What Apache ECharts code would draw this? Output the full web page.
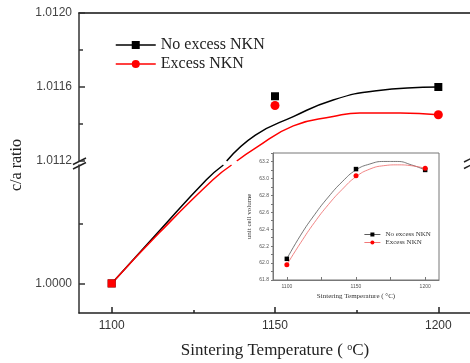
<!DOCTYPE html>
<html>
<head>
<meta charset="utf-8">
<script src="https://cdn.jsdelivr.net/npm/echarts@6/dist/echarts.min.js"></script>
<style>
  html, body { margin: 0; padding: 0; background: #fff; }
  #chart { width: 470px; height: 363px; }
</style>
</head>
<body>
<div id="chart"></div>
<script>
// main plot: c/a ratio against sintering temperature
const temps = [1100, 1150, 1200]
const caNoExcess = [1.0000, 1.01155, 1.01160]
const caExcess = [1.0000, 1.01150, 1.01145]

// fitted curves, split at the axis break
const fitNoExcessLow = [[1100, 1.0000], [1114, 1.00017], [1129, 1.00035], [1134.2, 1.0004]]
const fitExcessLow = [[1100, 1.0000], [1114.5, 1.00017], [1131, 1.00035], [1136.7, 1.0004]]
const fitNoExcessHigh = [[1135.2, 1.0112], [1144, 1.01134], [1155.6, 1.01144], [1167.8, 1.01153], [1181.1, 1.01158], [1200, 1.01160]]
const fitExcessHigh = [[1138.3, 1.0112], [1144, 1.01127], [1155.6, 1.01139], [1167.8, 1.01144], [1176, 1.01146], [1188.3, 1.01146], [1200, 1.01145]]

// inset: unit cell volume
const volNoExcess = [62.05, 63.11, 63.10]
const volExcess = [61.98, 63.03, 63.12]
const volFitNoExcess = [[1100, 62.05], [1110, 62.33], [1120, 62.57], [1130, 62.78], [1140, 62.96], [1150, 63.10], [1160, 63.17], [1170, 63.20], [1180, 63.20], [1190, 63.16], [1200, 63.10]]
const volFitExcess = [[1100, 61.98], [1110, 62.24], [1120, 62.48], [1130, 62.69], [1140, 62.87], [1150, 63.02], [1160, 63.11], [1170, 63.15], [1180, 63.16], [1190, 63.15], [1200, 63.12]]

// tick labels
const xLabels = [1100, 1150, 1200]
const xMinorTicks = [1125, 1175]
const lowYLabels = [1.0000]
const lowYMinorTicks = [1.0002]
const insetXTicks = [1100, 1125, 1150, 1175, 1200]
const insetYLabels = [61.8, 62.0, 62.2, 62.4, 62.6, 62.8, 63.0, 63.2]
const insetYTicks = [61.8, 61.9, 62.0, 62.1, 62.2, 62.3, 62.4, 62.5, 62.6, 62.7, 62.8, 62.9, 63.0, 63.1, 63.2, 63.3]

const SANS = 'Liberation Sans'
const SERIF = 'Liberation Serif'
const INSET = ' (inset)'

const pairs = (xs, ys) => xs.map((x, i) => [x, ys[i]])
const upper = p => p[1] > 1.01
const lower = p => p[1] < 1.01
const plain = v => String(v)

function hiddenAxis(extra) {
  return Object.assign({
    type: 'value',
    axisLine: { show: false, onZero: false },
    axisLabel: { show: false },
    splitLine: { show: false },
  }, extra)
}

const option = {
  animation: false,
  backgroundColor: '#fff',
  grid: [
    { left: 79, right: -1, top: 13, height: 148, outerBoundsMode: 'none' },
    { left: 79, right: -1, top: 165, height: 148, outerBoundsMode: 'none' },
    {
      left: 273, top: 153, width: 166, height: 127, outerBoundsMode: 'none',
      show: true, borderColor: '#777', borderWidth: 1, backgroundColor: '#fff',
    },
  ],
  legend: [
    {
      left: 115,
      top: 37,
      padding: 0,
      orient: 'vertical',
      itemWidth: 40,
      itemHeight: 10,
      itemGap: 3,
      textStyle: { fontFamily: SERIF, fontSize: 16, color: '#222' },
      data: [
        { name: 'No excess NKN', lineStyle: { color: '#000', width: 1.5, opacity: 1 } },
        { name: 'Excess NKN', lineStyle: { color: '#f00', width: 1.5, opacity: 1 } },
      ],
    },
    {
      left: 364,
      top: 231,
      padding: 0,
      orient: 'vertical',
      itemWidth: 16,
      itemHeight: 5,
      itemGap: 1,
      textStyle: { fontFamily: SERIF, fontSize: 7, color: '#333' },
      formatter: name => name.replace(INSET, ''),
      data: [
        { name: 'No excess NKN' + INSET, lineStyle: { color: '#333', width: 0.8, opacity: 1 } },
        { name: 'Excess NKN' + INSET, lineStyle: { color: '#e55', width: 0.8, opacity: 1 } },
      ],
    },
  ],
  xAxis: [
    // top frame of the main plot
    {
      type: 'value', gridIndex: 0, min: 1090, max: 1210, position: 'top',
      axisLine: { onZero: false, lineStyle: { color: '#111', width: 1.5 } },
      axisTick: { show: false }, axisLabel: { show: false }, splitLine: { show: false },
    },
    {
      type: 'value', gridIndex: 1, min: 1090, max: 1210, position: 'bottom',
      axisLine: { onZero: false, lineStyle: { color: '#222', width: 1.5 } },
      axisTick: { inside: true, length: 6, customValues: xLabels, lineStyle: { color: '#222', width: 1.5 } },
      axisLabel: { customValues: xLabels, formatter: plain, fontFamily: SANS, fontSize: 12, color: '#333', margin: 7 },
      splitLine: { show: false },
      name: 'Sintering Temperature ( {sup|o}C)',
      nameLocation: 'middle',
      nameGap: 29,
      nameTextStyle: {
        fontFamily: SERIF, fontSize: 17, color: '#222',
        rich: { sup: { fontFamily: SERIF, fontSize: 10, color: '#222', verticalAlign: 'top' } },
      },
    },
    hiddenAxis({
      gridIndex: 1, min: 1090, max: 1210, position: 'bottom',
      axisTick: { inside: true, length: 3, customValues: xMinorTicks, lineStyle: { color: '#222', width: 1.5 } },
    }),
    {
      type: 'value', gridIndex: 2, min: 1090, max: 1210, position: 'bottom',
      axisLine: { onZero: false, lineStyle: { color: '#777', width: 1 } },
      axisTick: { inside: true, length: 3, customValues: insetXTicks, lineStyle: { color: '#777' } },
      axisLabel: { customValues: xLabels, formatter: plain, fontFamily: SANS, fontSize: 5, color: '#555', margin: 4 },
      splitLine: { show: false },
      name: 'Sintering Temperature ( \u00b0C)',
      nameLocation: 'middle',
      nameGap: 13,
      nameTextStyle: { fontFamily: SERIF, fontSize: 7, color: '#333' },
    },
  ],
  yAxis: [
    {
      type: 'value', gridIndex: 0, min: 1.0112, max: 1.0120, interval: 0.0004,
      axisLine: { onZero: false, lineStyle: { color: '#333', width: 1.5 } },
      axisTick: { inside: true, length: 6, lineStyle: { color: '#333', width: 1.5 } },
      minorTick: { show: true, splitNumber: 2, length: 4, lineStyle: { color: '#333', width: 1.5 } },
      axisLabel: { formatter: v => v.toFixed(4), fontFamily: SANS, fontSize: 12, color: '#444', margin: 7 },
      splitLine: { show: false },
    },
    {
      type: 'value', gridIndex: 1, min: 0.9999, max: 1.0004, position: 'left',
      axisLine: { onZero: false, lineStyle: { color: '#333', width: 1.5 } },
      axisTick: { inside: true, length: 6, customValues: lowYLabels, lineStyle: { color: '#333', width: 1.5 } },
      axisLabel: { customValues: lowYLabels, formatter: v => v.toFixed(4), fontFamily: SANS, fontSize: 12, color: '#444', margin: 7 },
      splitLine: { show: false },
    },
    hiddenAxis({
      gridIndex: 1, min: 0.9999, max: 1.0004, position: 'left',
      axisTick: { inside: true, length: 4, customValues: lowYMinorTicks, lineStyle: { color: '#333', width: 1.5 } },
    }),
    {
      type: 'value', gridIndex: 2, min: 61.8, max: 63.3,
      axisLine: { onZero: false, lineStyle: { color: '#777', width: 1 } },
      axisTick: { length: 2, customValues: insetYTicks, lineStyle: { color: '#777' } },
      axisLabel: { customValues: insetYLabels, formatter: v => v.toFixed(1), fontFamily: SANS, fontSize: 5, color: '#555', margin: 4 },
      splitLine: { show: false },
      name: 'unit cell volume',
      nameLocation: 'middle',
      nameGap: 20,
      nameTextStyle: { fontFamily: SERIF, fontSize: 7, color: '#333' },
    },
  ],
  series: [
    // upper part of the broken axis
    {
      name: 'No excess NKN', type: 'line', xAxisIndex: 0, yAxisIndex: 0, z: 5,
      data: pairs(temps, caNoExcess).filter(upper),
      symbol: 'rect', symbolSize: 8, itemStyle: { color: '#000' }, lineStyle: { width: 0 },
    },
    {
      name: 'Excess NKN', type: 'line', xAxisIndex: 0, yAxisIndex: 0, z: 6,
      data: pairs(temps, caExcess).filter(upper),
      symbol: 'circle', symbolSize: 9, itemStyle: { color: '#f00' }, lineStyle: { width: 0 },
    },
    {
      name: 'fit no excess high', type: 'line', xAxisIndex: 0, yAxisIndex: 0, smooth: true,
      data: fitNoExcessHigh, showSymbol: false, lineStyle: { color: '#000', width: 1.5 },
    },
    {
      name: 'fit excess high', type: 'line', xAxisIndex: 0, yAxisIndex: 0, smooth: true,
      data: fitExcessHigh, showSymbol: false, lineStyle: { color: '#f00', width: 1.5 },
    },
    // lower part of the broken axis
    {
      name: 'fit no excess low', type: 'line', xAxisIndex: 1, yAxisIndex: 1, smooth: true,
      data: fitNoExcessLow, showSymbol: false, lineStyle: { color: '#000', width: 1.5 },
    },
    {
      name: 'fit excess low', type: 'line', xAxisIndex: 1, yAxisIndex: 1, smooth: true,
      data: fitExcessLow, showSymbol: false, lineStyle: { color: '#f00', width: 1.5 },
    },
    {
      name: 'no excess low', type: 'line', xAxisIndex: 1, yAxisIndex: 1, z: 5,
      data: pairs(temps, caNoExcess).filter(lower),
      symbol: 'rect', symbolSize: 8, itemStyle: { color: '#000' }, lineStyle: { width: 0 },
    },
    {
      name: 'excess low', type: 'line', xAxisIndex: 1, yAxisIndex: 1, z: 6,
      data: pairs(temps, caExcess).filter(lower),
      symbol: 'rect', symbolSize: 8, itemStyle: { color: '#f00' }, lineStyle: { width: 0 },
    },
    // inset
    {
      name: 'No excess NKN' + INSET, type: 'line', xAxisIndex: 3, yAxisIndex: 3, z: 5,
      data: pairs(temps, volNoExcess),
      symbol: 'rect', symbolSize: 4.5, itemStyle: { color: '#000' }, lineStyle: { width: 0 },
    },
    {
      name: 'Excess NKN' + INSET, type: 'line', xAxisIndex: 3, yAxisIndex: 3, z: 6,
      data: pairs(temps, volExcess),
      symbol: 'circle', symbolSize: 5, itemStyle: { color: '#f00' }, lineStyle: { width: 0 },
    },
    {
      name: 'inset fit no excess', type: 'line', xAxisIndex: 3, yAxisIndex: 3, smooth: true,
      data: volFitNoExcess, showSymbol: false, lineStyle: { color: '#555', width: 0.8 },
    },
    {
      name: 'inset fit excess', type: 'line', xAxisIndex: 3, yAxisIndex: 3, smooth: true,
      data: volFitExcess, showSymbol: false, lineStyle: { color: '#e66', width: 0.8 },
    },
  ],
  graphic: [
    {
      type: 'text', x: 17, y: 165, rotation: Math.PI / 2,
      style: { text: 'c/a ratio', fontFamily: SERIF, fontSize: 16, fill: '#222', align: 'center', verticalAlign: 'middle' },
    },
    // break marks on the left and right axes
    { type: 'line', shape: { x1: 73, y1: 164.5, x2: 86, y2: 158 }, style: { stroke: '#222', lineWidth: 1.5 } },
    { type: 'line', shape: { x1: 73, y1: 169, x2: 86, y2: 162.5 }, style: { stroke: '#222', lineWidth: 1.5 } },
    { type: 'line', shape: { x1: 464, y1: 162, x2: 472, y2: 158 }, style: { stroke: '#222', lineWidth: 1.5 } },
    { type: 'line', shape: { x1: 464, y1: 168.5, x2: 472, y2: 164.5 }, style: { stroke: '#222', lineWidth: 1.5 } },
  ],
}

const chart = echarts.init(document.getElementById('chart'), null, { renderer: 'canvas' })
chart.setOption(option)
</script>
</body>
</html>
